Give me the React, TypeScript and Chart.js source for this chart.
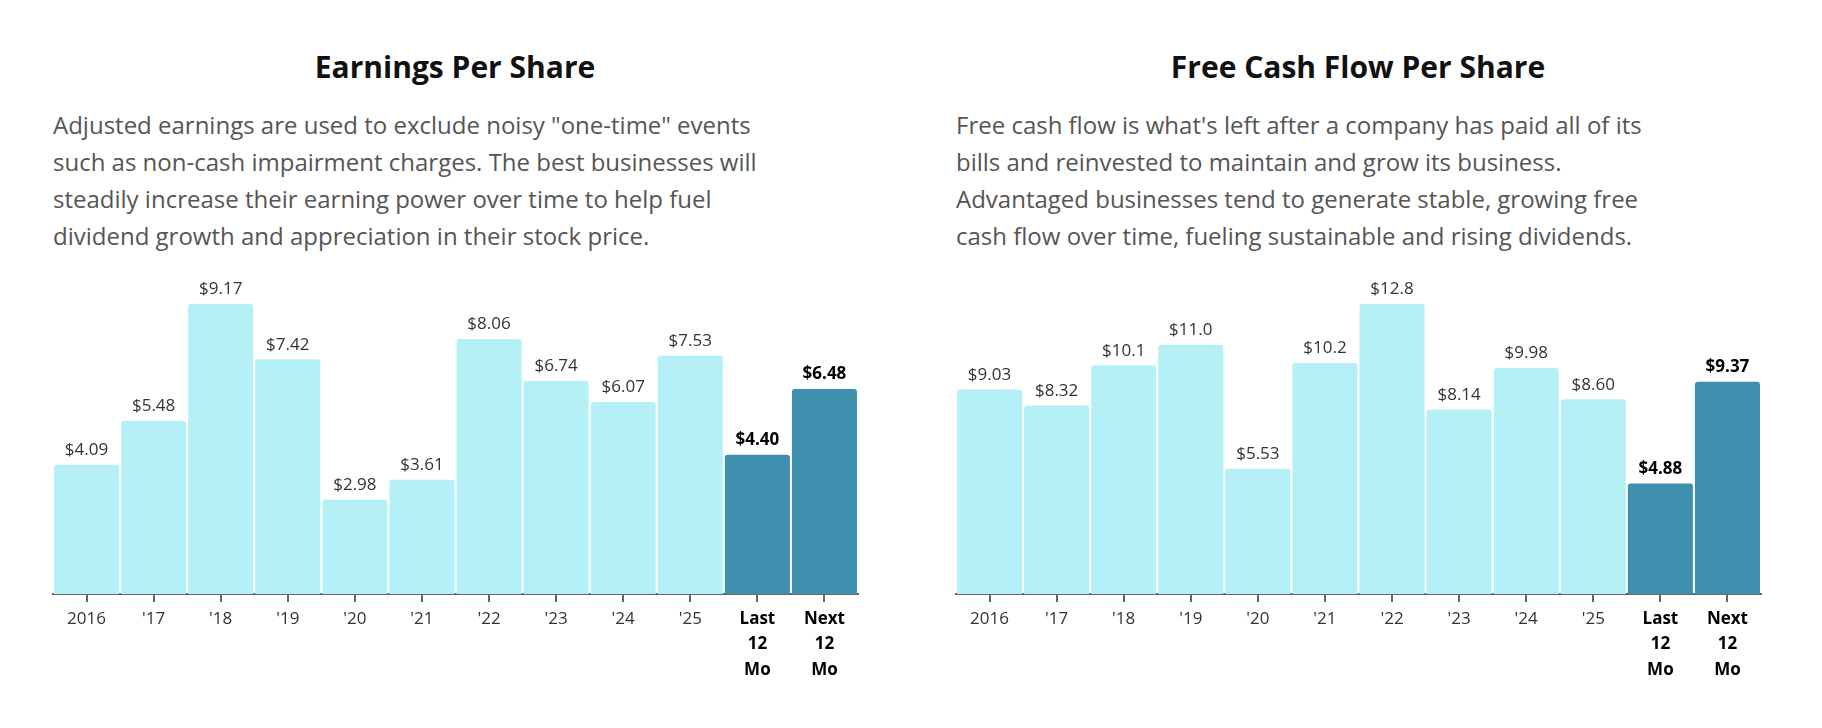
import React, { useEffect, useRef } from "react";
import { Chart, registerables } from "chart.js";
Chart.register(...registerables);

const categories = [["2016"], ["'17"], ["'18"], ["'19"], ["'20"], ["'21"], ["'22"], ["'23"], ["'24"], ["'25"], ["Last", "12", "Mo"], ["Next", "12", "Mo"]];
const epsValues = [4.09, 5.48, 9.17, 7.42, 2.98, 3.61, 8.06, 6.74, 6.07, 7.53, 4.40, 6.48];
const epsLabels = ["$4.09", "$5.48", "$9.17", "$7.42", "$2.98", "$3.61", "$8.06", "$6.74", "$6.07", "$7.53", "$4.40", "$6.48"];
const fcfValues = [9.03, 8.32, 10.1, 11.0, 5.53, 10.2, 12.8, 8.14, 9.98, 8.60, 4.88, 9.37];
const fcfLabels = ["$9.03", "$8.32", "$10.1", "$11.0", "$5.53", "$10.2", "$12.8", "$8.14", "$9.98", "$8.60", "$4.88", "$9.37"];

const LIGHT = "#b5f0f7";
const DARK = "#3f8fae";
const FONT = "'Open Sans', sans-serif";

function BarChart({ values, labels }: { values: number[]; labels: string[] }) {
  const ref = useRef<HTMLCanvasElement>(null);
  useEffect(() => {
    const n = values.length;
    const valuePlugin = {
      id: "vals",
      afterDatasetsDraw(chart: any) {
        const ctx = chart.ctx;
        const meta = chart.getDatasetMeta(0);
        ctx.save();
        ctx.textAlign = "center";
        ctx.textBaseline = "bottom";
        meta.data.forEach((bar: any, i: number) => {
          const bold = i >= n - 2;
          ctx.font = `${bold ? "bold " : ""}17px ${FONT}`;
          ctx.fillStyle = bold ? "#000" : "#333";
          ctx.fillText(labels[i], bar.x, bar.y - 6);
        });
        ctx.restore();
      },
    };
    const chart = new Chart(ref.current!, {
      type: "bar",
      data: {
        labels: categories,
        datasets: [{
          data: values,
          backgroundColor: values.map((_, i) => (i >= n - 2 ? DARK : LIGHT)),
          categoryPercentage: 1,
          barPercentage: 0.97,
          borderRadius: { topLeft: 3, topRight: 3 },
          borderSkipped: "bottom",
        }],
      },
      options: {
        animation: false,
        responsive: false,
        maintainAspectRatio: false,
        layout: { padding: { top: 64, left: 13, right: 12, bottom: 0 } },
        plugins: { legend: { display: false }, tooltip: { enabled: false } },
        scales: {
          y: { display: false, min: 0, max: Math.max(...values) },
          x: {
            grid: { drawOnChartArea: false, drawTicks: true, tickLength: 8, color: "#666", offset: false, lineWidth: 2 },
            border: { color: "#666", width: 2 },
            ticks: {
              color: (c: any) => (c.index >= n - 2 ? "#000" : "#333"),
              font: (c: any) => ({ family: FONT, size: 17, weight: c.index >= n - 2 ? "bold" : "normal", lineHeight: 1.5 }),
              maxRotation: 0,
              autoSkip: false,
              padding: 4,
            },
            afterFit: (s: any) => { s.height = 106; },
          },
        },
      },
      plugins: [valuePlugin],
    });
    return () => chart.destroy();
  }, []);
  return <canvas ref={ref} width={830} height={460} />;
}

const titleStyle: React.CSSProperties = { position: "absolute", fontFamily: FONT, fontWeight: 700, fontSize: 30, color: "#111", textAlign: "center", width: 830, top: 38 };
const descStyle: React.CSSProperties = { position: "absolute", fontFamily: FONT, fontSize: 24, color: "#555", lineHeight: "37px", top: 98, whiteSpace: "nowrap" };

export default function App() {
  return (
    <div style={{ position: "relative", width: 1806, height: 712, background: "#fff" }}>
      <div style={{ ...titleStyle, left: 32 }}>Earnings Per Share</div>
      <div style={{ ...descStyle, left: 45 }}>
        <div>Adjusted earnings are used to exclude noisy "one-time" events</div>
        <div>such as non-cash impairment charges. The best businesses will</div>
        <div>steadily increase their earning power over time to help fuel</div>
        <div>dividend growth and appreciation in their stock price.</div>
      </div>
      <div style={{ position: "absolute", left: 32, top: 232 }}>
        <BarChart values={epsValues} labels={epsLabels} />
      </div>
      <div style={{ ...titleStyle, left: 935 }}>Free Cash Flow Per Share</div>
      <div style={{ ...descStyle, left: 948 }}>
        <div>Free cash flow is what's left after a company has paid all of its</div>
        <div>bills and reinvested to maintain and grow its business.</div>
        <div>Advantaged businesses tend to generate stable, growing free</div>
        <div>cash flow over time, fueling sustainable and rising dividends.</div>
      </div>
      <div style={{ position: "absolute", left: 935, top: 232 }}>
        <BarChart values={fcfValues} labels={fcfLabels} />
      </div>
    </div>
  );
}
